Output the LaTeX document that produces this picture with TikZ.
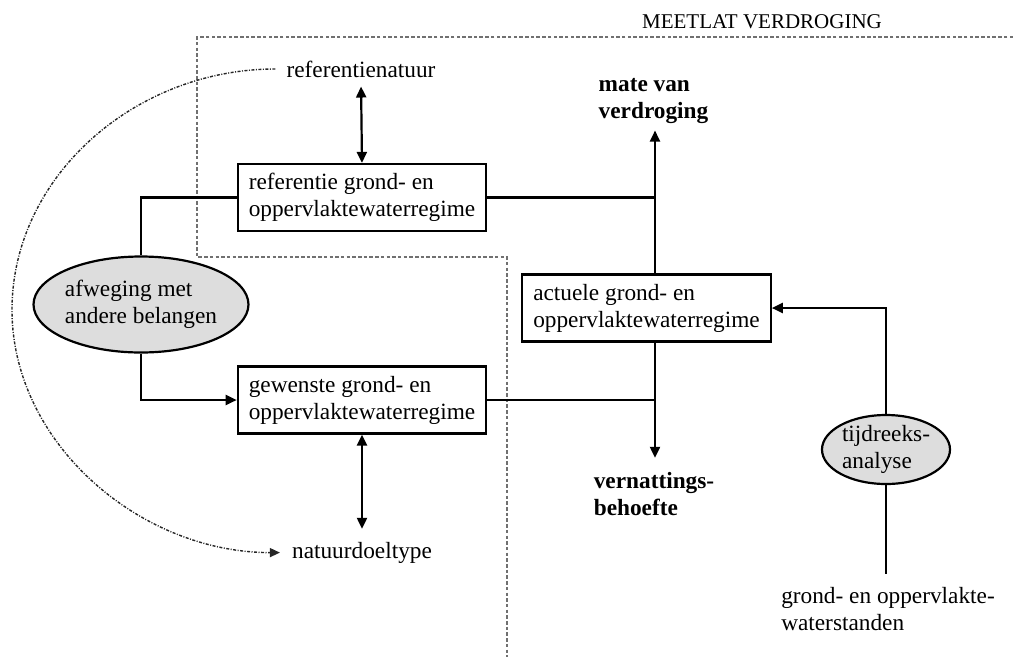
\documentclass[tikz,border=0pt]{standalone}
\usepackage{fontspec}
\setmainfont{Liberation Serif}
\usetikzlibrary{shapes.geometric,arrows.meta}
\definecolor{ovalfill}{HTML}{DDDDDD}
\definecolor{regiongray}{HTML}{707070}
\begin{document}
\begin{tikzpicture}[x=1pt,y=1pt,
  txt/.style={font=\fontsize{23.3}{27}\selectfont, inner sep=4pt},
  boldtxt/.style={txt, font=\fontsize{23.3}{27}\selectfont\bfseries, align=left},
  regbox/.style={draw, line width=2.2pt, font=\fontsize{23.3}{27}\selectfont, align=left,
    inner xsep=11pt, minimum height=67pt},
  oval/.style={ellipse, draw, line width=2.2pt, fill=ovalfill, inner sep=0pt,
    font=\fontsize{23.3}{27}\selectfont, align=left},
  conn/.style={line width=2.2pt},
  tip/.style={-{Triangle[length=11pt,width=10pt]}},
  dtip/.style={{Triangle[length=11pt,width=10pt]}-{Triangle[length=11pt,width=10pt]}},
  region/.style={draw=regiongray, line width=2.4pt, dash pattern=on 3.5pt off 2.2pt},
  curve/.style={draw=black!85, line width=1.4pt, dash pattern=on 3pt off 1.5pt on 1pt off 1.5pt}
]
\useasboundingbox (0,0) rectangle (1013,-657);

% region of the measuring rod
\draw[region] (1013,-37) -- (197,-37) -- (197,-257) -- (507,-257) -- (507,-657);
\node[txt, font=\fontsize{21}{25}\selectfont] (meet) at (762,-22) {MEETLAT VERDROGING};

% nodes
\node[txt] (refnat) at (361,-69) {referentienatuur};
\node[regbox] (refbox) at (362,-197.5) {referentie grond- en\\oppervlaktewaterregime};
\node[regbox] (gewbox) at (362,-400) {gewenste grond- en\\oppervlaktewaterregime};
\node[regbox] (actbox) at (646.5,-308) {actuele grond- en\\oppervlaktewaterregime};
\node[oval, minimum width=184pt, minimum height=96pt] (afw) at (141,-304.5) {afweging met\\andere belangen};
\node[txt] (natuur) at (362,-552.6) {natuurdoeltype};
\node[boldtxt] (mate) at (653.5,-100.7) {mate van\\verdroging};
\node[boldtxt] (vern) at (654,-493.7) {vernattings-\\behoefte};
\node[oval, minimum width=128pt, minimum height=69pt] (tijd) at (886,-449.5) {tijdreeks-\\analyse};
\node[txt, align=left] (gows) at (888,-609.5) {grond- en oppervlakte-\\waterstanden};

% junctions
\coordinate (j1) at (655,-197.5);
\coordinate (j2) at (655,-400);
\coordinate (cl) at (12,-310);

% connectors
\draw[conn, dtip, shorten <=5pt] (refnat.south) -- (refbox.north);
\draw[conn] (refbox.west) -| (afw.north);
\draw[conn, tip] (afw.south) |- (gewbox.west);
\draw[conn, dtip, shorten >=9pt] (gewbox.south) -- (natuur.north);

\draw[conn] (refbox.east) -- (j1);
\draw[conn, tip, shorten >=3pt] (j1) -- (j1 |- mate.south);
\draw[conn] (actbox.north -| j1) -- (j1);

\draw[conn] (gewbox.east) -- (j2);
\draw[conn] (actbox.south -| j2) -- (j2);
\draw[conn, tip, shorten >=10pt] (j2) -- (j2 |- vern.north);

\draw[conn, tip] (tijd.north) |- (actbox.east);
\draw[conn, shorten >=10pt] (tijd.south) -- (tijd.south |- gows.north);

\draw[curve, -{Triangle[length=10pt,width=9pt]}, shorten <=7pt, shorten >=8pt] (refnat.west) .. controls +(-148,0) and +(0,133) .. (cl)
  .. controls +(0,-133) and +(-148,0) .. (natuur.west);
\end{tikzpicture}
\end{document}
